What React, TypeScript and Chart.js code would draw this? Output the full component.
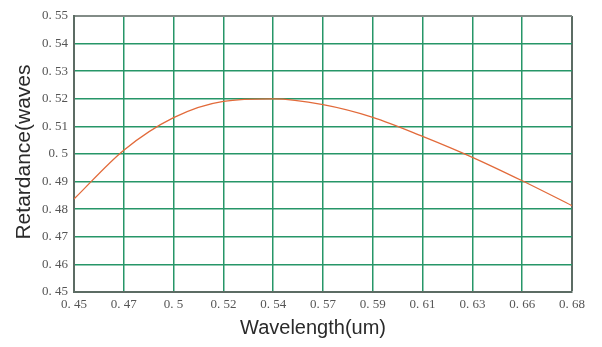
import React, { useEffect, useRef } from "react";
import { Chart, registerables } from "chart.js";

Chart.register(...registerables);

const wavelengths = [
  0.45, 0.473, 0.496, 0.519, 0.542, 0.565, 0.588, 0.611, 0.634, 0.657, 0.68,
];
const retardance = [
  0.4837, 0.5014, 0.5132, 0.5191, 0.52, 0.5179, 0.5133, 0.5064, 0.4988,
  0.4903, 0.4813,
];
const xTickLabels = [
  "0. 45", "0. 47", "0. 5", "0. 52", "0. 54", "0. 57", "0. 59", "0. 61",
  "0. 63", "0. 66", "0. 68",
];
const yTickLabels = [
  "0. 45", "0. 46", "0. 47", "0. 48", "0. 49", "0. 5", "0. 51", "0. 52",
  "0. 53", "0. 54", "0. 55",
];
const xTitle = "Wavelength(um)";
const yTitle = "Retardance(waves";

const GRID = "rgb(38,150,104)";
const FRAME = "rgb(92,108,100)";

const titlesPlugin = {
  id: "axisTitles",
  afterDraw(chart: any) {
    const { ctx, chartArea } = chart;
    ctx.save();
    ctx.fillStyle = "#2a2a2a";
    ctx.textAlign = "center";
    ctx.textBaseline = "middle";
    ctx.font = "20px 'Liberation Sans', Arial, sans-serif";
    ctx.fillText(xTitle, (chartArea.left + chartArea.right) / 2 - 10, 328);
    ctx.translate(24, (chartArea.top + chartArea.bottom) / 2 - 2);
    ctx.rotate(-Math.PI / 2);
    ctx.font = "21px 'Liberation Sans', Arial, sans-serif";
    ctx.fillText(yTitle, 0, 0);
    ctx.restore();
  },
};

export default function App() {
  const ref = useRef<HTMLCanvasElement | null>(null);
  useEffect(() => {
    if (!ref.current) return;
    const chart = new Chart(ref.current, {
      type: "scatter",
      data: {
        datasets: [
          {
            data: wavelengths.map((w, i) => ({ x: w, y: retardance[i] })),
            showLine: true,
            borderColor: "rgb(226,106,58)",
            borderWidth: 1.3,
            pointRadius: 0,
            cubicInterpolationMode: "monotone",
            fill: false,
          },
        ],
      },
      options: {
        animation: false,
        responsive: true,
        maintainAspectRatio: false,
        layout: { padding: { left: 0, right: 30, top: 16, bottom: 0 } },
        plugins: { legend: { display: false }, tooltip: { enabled: false } },
        scales: {
          x: {
            type: "linear",
            min: 0.45,
            max: 0.68,
            afterFit: (s: any) => {
              s.height = 55;
            },
            ticks: {
              stepSize: 0.023,
              autoSkip: false,
              maxRotation: 0,
              padding: 5,
              color: "#555",
              font: { family: "'Liberation Serif', serif", size: 13 },
              callback: (_v: any, i: number) => xTickLabels[i],
            },
            grid: {
              drawTicks: false,
              color: (c: any) => (c.index === 10 ? FRAME : GRID),
              lineWidth: (c: any) => (c.index === 10 ? 2 : 1.5),
            },
            border: { display: true, color: FRAME, width: 2 },
          },
          y: {
            type: "linear",
            min: 0.45,
            max: 0.55,
            afterFit: (s: any) => {
              s.width = 74;
            },
            ticks: {
              stepSize: 0.01,
              autoSkip: false,
              padding: 6,
              color: "#555",
              font: { family: "'Liberation Serif', serif", size: 13 },
              callback: (_v: any, i: number) => yTickLabels[i],
            },
            grid: {
              drawTicks: false,
              color: (c: any) => (c.index === 10 ? "rgb(130,140,135)" : GRID),
              lineWidth: (c: any) => (c.index === 10 ? 2 : 1.5),
            },
            border: { display: true, color: FRAME, width: 2 },
          },
        },
      },
      plugins: [titlesPlugin],
    });
    return () => chart.destroy();
  }, []);
  return (
    <div style={{ position: "absolute", left: 0, top: 0, width: 602, height: 347, background: "#fff" }}>
      <canvas ref={ref} />
    </div>
  );
}
